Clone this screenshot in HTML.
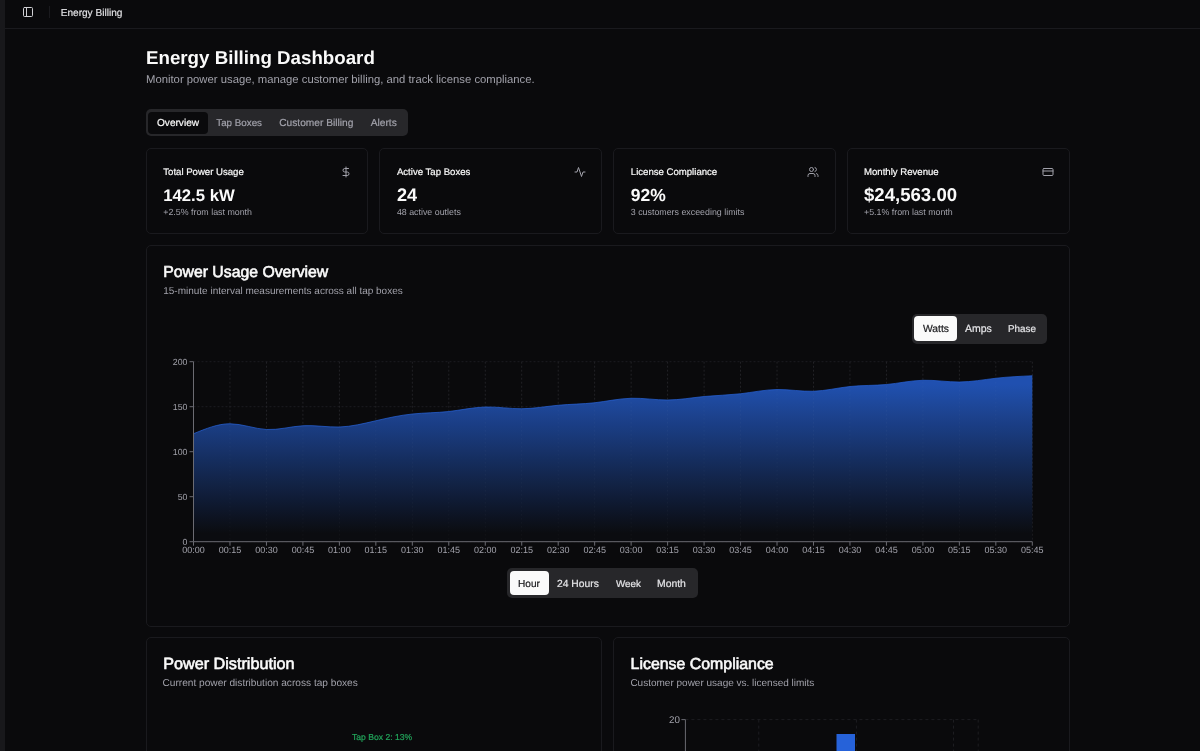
<!DOCTYPE html>
<html><head><meta charset="utf-8"><style>
html,body{margin:0;padding:0;width:1200px;height:751px;overflow:hidden;background:#0a0a0c;}
body{position:relative;font-family:"Liberation Sans",sans-serif;}
.t{position:absolute;white-space:nowrap;line-height:1;text-rendering:geometricPrecision;}
#tl{position:absolute;left:0;top:0;width:1200px;height:751px;will-change:transform;}
.b{position:absolute;}
</style></head><body>
<div class="b" style="left:0px;top:0px;width:5px;height:751px;background:#18181b"></div>
<div class="b" style="left:5px;top:28px;width:1195px;height:1px;background:#1a1a1e"></div>
<svg class="b" style="left:22px;top:6px" width="12" height="12" viewBox="0 0 24 24" fill="none" stroke="#d0d0d4" stroke-width="2" stroke-linecap="round" stroke-linejoin="round"><rect width="18" height="18" x="3" y="3" rx="2"/><path d="M9 3v18"/></svg>
<div class="b" style="left:49px;top:6px;width:1px;height:12px;background:#1a1a1e"></div>
<div class="b" style="left:146px;top:109px;width:262px;height:27px;background:#27272a;border-radius:5px"></div>
<div class="b" style="left:148px;top:112px;width:60px;height:22px;background:#0a0a0c;border-radius:4px"></div>
<div class="b" style="left:146px;top:148px;width:222px;height:86px;border:1px solid #1a1a1e;border-radius:5px;box-sizing:border-box"></div>
<svg class="b" style="left:339.50px;top:165.6px" width="12" height="12" viewBox="0 0 24 24" fill="none" stroke="#a1a1aa" stroke-width="2" stroke-linecap="round" stroke-linejoin="round"><line x1="12" x2="12" y1="2" y2="22"/><path d="M17 5H9.5a3.5 3.5 0 0 0 0 7h5a3.5 3.5 0 0 1 0 7H6"/></svg>
<div class="b" style="left:379px;top:148px;width:223px;height:86px;border:1px solid #1a1a1e;border-radius:5px;box-sizing:border-box"></div>
<svg class="b" style="left:573.70px;top:165.6px" width="12" height="12" viewBox="0 0 24 24" fill="none" stroke="#a1a1aa" stroke-width="2" stroke-linecap="round" stroke-linejoin="round"><path d="M22 12h-4l-3 9L9 3l-3 9H2"/></svg>
<div class="b" style="left:613px;top:148px;width:223px;height:86px;border:1px solid #1a1a1e;border-radius:5px;box-sizing:border-box"></div>
<svg class="b" style="left:807.40px;top:165.6px" width="12" height="12" viewBox="0 0 24 24" fill="none" stroke="#a1a1aa" stroke-width="2" stroke-linecap="round" stroke-linejoin="round"><path d="M16 21v-2a4 4 0 0 0-4-4H6a4 4 0 0 0-4 4v2"/><circle cx="9" cy="7" r="4"/><path d="M22 21v-2a4 4 0 0 0-3-3.87"/><path d="M16 3.13a4 4 0 0 1 0 7.75"/></svg>
<div class="b" style="left:847px;top:148px;width:223px;height:86px;border:1px solid #1a1a1e;border-radius:5px;box-sizing:border-box"></div>
<svg class="b" style="left:1041.50px;top:165.6px" width="12" height="12" viewBox="0 0 24 24" fill="none" stroke="#a1a1aa" stroke-width="2" stroke-linecap="round" stroke-linejoin="round"><rect width="20" height="14" x="2" y="5" rx="2"/><line x1="2" x2="22" y1="10" y2="10"/></svg>
<div class="b" style="left:146px;top:245px;width:924px;height:382px;border:1px solid #1a1a1e;border-radius:5px;box-sizing:border-box"></div>
<div class="b" style="left:912px;top:314px;width:135px;height:30px;background:#27272a;border-radius:5px"></div>
<div class="b" style="left:914px;top:316px;width:43.3px;height:25.3px;background:#fafafa;border-radius:4px"></div>
<div class="b" style="left:507px;top:568px;width:191px;height:30px;background:#27272a;border-radius:5px"></div>
<div class="b" style="left:509.6px;top:570.9px;width:39.1px;height:24.6px;background:#fafafa;border-radius:4px"></div>
<svg class="b" style="left:0;top:0" width="1200" height="751"><defs><linearGradient id="g" x1="0" y1="0" x2="0" y2="1"><stop offset="0%" stop-color="#2050b0"/><stop offset="5%" stop-color="#2050b0"/><stop offset="10%" stop-color="#1f4da7"/><stop offset="15%" stop-color="#1e499e"/><stop offset="20%" stop-color="#1d4595"/><stop offset="25%" stop-color="#1c418c"/><stop offset="30%" stop-color="#1a3d84"/><stop offset="35%" stop-color="#193a7b"/><stop offset="40%" stop-color="#183672"/><stop offset="45%" stop-color="#173269"/><stop offset="50%" stop-color="#152e60"/><stop offset="55%" stop-color="#142a57"/><stop offset="60%" stop-color="#13264e"/><stop offset="65%" stop-color="#122345"/><stop offset="70%" stop-color="#111f3d"/><stop offset="75%" stop-color="#0f1b34"/><stop offset="80%" stop-color="#0e172b"/><stop offset="85%" stop-color="#0d1322"/><stop offset="90%" stop-color="#0c1019"/><stop offset="95%" stop-color="#0b0c10"/><stop offset="100%" stop-color="#0b0c10"/></linearGradient></defs><line x1="193.5" x2="1032.31" y1="361.70" y2="361.70" stroke="#1d1d21" stroke-dasharray="2 2" stroke-width="1"/><line x1="193.5" x2="1032.31" y1="406.70" y2="406.70" stroke="#1d1d21" stroke-dasharray="2 2" stroke-width="1"/><line x1="193.5" x2="1032.31" y1="451.70" y2="451.70" stroke="#1d1d21" stroke-dasharray="2 2" stroke-width="1"/><line x1="193.5" x2="1032.31" y1="496.70" y2="496.70" stroke="#1d1d21" stroke-dasharray="2 2" stroke-width="1"/><line x1="193.5" x2="1032.31" y1="541.70" y2="541.70" stroke="#1d1d21" stroke-dasharray="2 2" stroke-width="1"/><line x1="193.50" x2="193.50" y1="361.7" y2="541.7" stroke="#1d1d21" stroke-dasharray="2 2" stroke-width="1"/><line x1="229.97" x2="229.97" y1="361.7" y2="541.7" stroke="#1d1d21" stroke-dasharray="2 2" stroke-width="1"/><line x1="266.44" x2="266.44" y1="361.7" y2="541.7" stroke="#1d1d21" stroke-dasharray="2 2" stroke-width="1"/><line x1="302.91" x2="302.91" y1="361.7" y2="541.7" stroke="#1d1d21" stroke-dasharray="2 2" stroke-width="1"/><line x1="339.38" x2="339.38" y1="361.7" y2="541.7" stroke="#1d1d21" stroke-dasharray="2 2" stroke-width="1"/><line x1="375.85" x2="375.85" y1="361.7" y2="541.7" stroke="#1d1d21" stroke-dasharray="2 2" stroke-width="1"/><line x1="412.32" x2="412.32" y1="361.7" y2="541.7" stroke="#1d1d21" stroke-dasharray="2 2" stroke-width="1"/><line x1="448.79" x2="448.79" y1="361.7" y2="541.7" stroke="#1d1d21" stroke-dasharray="2 2" stroke-width="1"/><line x1="485.26" x2="485.26" y1="361.7" y2="541.7" stroke="#1d1d21" stroke-dasharray="2 2" stroke-width="1"/><line x1="521.73" x2="521.73" y1="361.7" y2="541.7" stroke="#1d1d21" stroke-dasharray="2 2" stroke-width="1"/><line x1="558.20" x2="558.20" y1="361.7" y2="541.7" stroke="#1d1d21" stroke-dasharray="2 2" stroke-width="1"/><line x1="594.67" x2="594.67" y1="361.7" y2="541.7" stroke="#1d1d21" stroke-dasharray="2 2" stroke-width="1"/><line x1="631.14" x2="631.14" y1="361.7" y2="541.7" stroke="#1d1d21" stroke-dasharray="2 2" stroke-width="1"/><line x1="667.61" x2="667.61" y1="361.7" y2="541.7" stroke="#1d1d21" stroke-dasharray="2 2" stroke-width="1"/><line x1="704.08" x2="704.08" y1="361.7" y2="541.7" stroke="#1d1d21" stroke-dasharray="2 2" stroke-width="1"/><line x1="740.55" x2="740.55" y1="361.7" y2="541.7" stroke="#1d1d21" stroke-dasharray="2 2" stroke-width="1"/><line x1="777.02" x2="777.02" y1="361.7" y2="541.7" stroke="#1d1d21" stroke-dasharray="2 2" stroke-width="1"/><line x1="813.49" x2="813.49" y1="361.7" y2="541.7" stroke="#1d1d21" stroke-dasharray="2 2" stroke-width="1"/><line x1="849.96" x2="849.96" y1="361.7" y2="541.7" stroke="#1d1d21" stroke-dasharray="2 2" stroke-width="1"/><line x1="886.43" x2="886.43" y1="361.7" y2="541.7" stroke="#1d1d21" stroke-dasharray="2 2" stroke-width="1"/><line x1="922.90" x2="922.90" y1="361.7" y2="541.7" stroke="#1d1d21" stroke-dasharray="2 2" stroke-width="1"/><line x1="959.37" x2="959.37" y1="361.7" y2="541.7" stroke="#1d1d21" stroke-dasharray="2 2" stroke-width="1"/><line x1="995.84" x2="995.84" y1="361.7" y2="541.7" stroke="#1d1d21" stroke-dasharray="2 2" stroke-width="1"/><line x1="1032.31" x2="1032.31" y1="361.7" y2="541.7" stroke="#1d1d21" stroke-dasharray="2 2" stroke-width="1"/><path d="M193.50,433.75C205.66,428.74 217.81,423.73 229.97,423.75C242.13,423.77 254.28,428.83 266.44,429.50C278.60,430.17 290.75,426.45 302.91,425.75C315.07,425.05 327.22,427.36 339.38,427.00C351.54,426.64 363.69,423.59 375.85,420.75C388.01,417.91 400.16,415.26 412.32,414.00C424.48,412.74 436.63,412.85 448.79,411.50C460.95,410.15 473.10,407.33 485.26,407.00C497.42,406.67 509.57,408.82 521.73,408.75C533.89,408.68 546.04,406.39 558.20,405.25C570.36,404.11 582.51,404.13 594.67,402.75C606.83,401.37 618.98,398.58 631.14,398.25C643.30,397.92 655.45,400.06 667.61,400.00C679.77,399.94 691.92,397.70 704.08,396.50C716.24,395.30 728.39,395.16 740.55,393.75C752.71,392.34 764.86,389.68 777.02,389.50C789.18,389.32 801.33,391.63 813.49,391.25C825.65,390.87 837.80,387.80 849.96,386.50C862.12,385.20 874.27,385.66 886.43,384.50C898.59,383.34 910.74,380.57 922.90,380.25C935.06,379.93 947.21,382.07 959.37,382.00C971.53,381.93 983.68,379.66 995.84,378.25C1008.00,376.84 1020.15,376.30 1032.31,375.75L1032.31,541.70L193.50,541.70Z" fill="url(#g)"/><line x1="193.50" x2="193.50" y1="361.7" y2="541.7" stroke="rgba(255,255,255,0.03)" stroke-dasharray="2 2" stroke-width="1"/><line x1="229.97" x2="229.97" y1="361.7" y2="541.7" stroke="rgba(255,255,255,0.03)" stroke-dasharray="2 2" stroke-width="1"/><line x1="266.44" x2="266.44" y1="361.7" y2="541.7" stroke="rgba(255,255,255,0.03)" stroke-dasharray="2 2" stroke-width="1"/><line x1="302.91" x2="302.91" y1="361.7" y2="541.7" stroke="rgba(255,255,255,0.03)" stroke-dasharray="2 2" stroke-width="1"/><line x1="339.38" x2="339.38" y1="361.7" y2="541.7" stroke="rgba(255,255,255,0.03)" stroke-dasharray="2 2" stroke-width="1"/><line x1="375.85" x2="375.85" y1="361.7" y2="541.7" stroke="rgba(255,255,255,0.03)" stroke-dasharray="2 2" stroke-width="1"/><line x1="412.32" x2="412.32" y1="361.7" y2="541.7" stroke="rgba(255,255,255,0.03)" stroke-dasharray="2 2" stroke-width="1"/><line x1="448.79" x2="448.79" y1="361.7" y2="541.7" stroke="rgba(255,255,255,0.03)" stroke-dasharray="2 2" stroke-width="1"/><line x1="485.26" x2="485.26" y1="361.7" y2="541.7" stroke="rgba(255,255,255,0.03)" stroke-dasharray="2 2" stroke-width="1"/><line x1="521.73" x2="521.73" y1="361.7" y2="541.7" stroke="rgba(255,255,255,0.03)" stroke-dasharray="2 2" stroke-width="1"/><line x1="558.20" x2="558.20" y1="361.7" y2="541.7" stroke="rgba(255,255,255,0.03)" stroke-dasharray="2 2" stroke-width="1"/><line x1="594.67" x2="594.67" y1="361.7" y2="541.7" stroke="rgba(255,255,255,0.03)" stroke-dasharray="2 2" stroke-width="1"/><line x1="631.14" x2="631.14" y1="361.7" y2="541.7" stroke="rgba(255,255,255,0.03)" stroke-dasharray="2 2" stroke-width="1"/><line x1="667.61" x2="667.61" y1="361.7" y2="541.7" stroke="rgba(255,255,255,0.03)" stroke-dasharray="2 2" stroke-width="1"/><line x1="704.08" x2="704.08" y1="361.7" y2="541.7" stroke="rgba(255,255,255,0.03)" stroke-dasharray="2 2" stroke-width="1"/><line x1="740.55" x2="740.55" y1="361.7" y2="541.7" stroke="rgba(255,255,255,0.03)" stroke-dasharray="2 2" stroke-width="1"/><line x1="777.02" x2="777.02" y1="361.7" y2="541.7" stroke="rgba(255,255,255,0.03)" stroke-dasharray="2 2" stroke-width="1"/><line x1="813.49" x2="813.49" y1="361.7" y2="541.7" stroke="rgba(255,255,255,0.03)" stroke-dasharray="2 2" stroke-width="1"/><line x1="849.96" x2="849.96" y1="361.7" y2="541.7" stroke="rgba(255,255,255,0.03)" stroke-dasharray="2 2" stroke-width="1"/><line x1="886.43" x2="886.43" y1="361.7" y2="541.7" stroke="rgba(255,255,255,0.03)" stroke-dasharray="2 2" stroke-width="1"/><line x1="922.90" x2="922.90" y1="361.7" y2="541.7" stroke="rgba(255,255,255,0.03)" stroke-dasharray="2 2" stroke-width="1"/><line x1="959.37" x2="959.37" y1="361.7" y2="541.7" stroke="rgba(255,255,255,0.03)" stroke-dasharray="2 2" stroke-width="1"/><line x1="995.84" x2="995.84" y1="361.7" y2="541.7" stroke="rgba(255,255,255,0.03)" stroke-dasharray="2 2" stroke-width="1"/><line x1="1032.31" x2="1032.31" y1="361.7" y2="541.7" stroke="rgba(255,255,255,0.03)" stroke-dasharray="2 2" stroke-width="1"/><path d="M193.50,433.75C205.66,428.74 217.81,423.73 229.97,423.75C242.13,423.77 254.28,428.83 266.44,429.50C278.60,430.17 290.75,426.45 302.91,425.75C315.07,425.05 327.22,427.36 339.38,427.00C351.54,426.64 363.69,423.59 375.85,420.75C388.01,417.91 400.16,415.26 412.32,414.00C424.48,412.74 436.63,412.85 448.79,411.50C460.95,410.15 473.10,407.33 485.26,407.00C497.42,406.67 509.57,408.82 521.73,408.75C533.89,408.68 546.04,406.39 558.20,405.25C570.36,404.11 582.51,404.13 594.67,402.75C606.83,401.37 618.98,398.58 631.14,398.25C643.30,397.92 655.45,400.06 667.61,400.00C679.77,399.94 691.92,397.70 704.08,396.50C716.24,395.30 728.39,395.16 740.55,393.75C752.71,392.34 764.86,389.68 777.02,389.50C789.18,389.32 801.33,391.63 813.49,391.25C825.65,390.87 837.80,387.80 849.96,386.50C862.12,385.20 874.27,385.66 886.43,384.50C898.59,383.34 910.74,380.57 922.90,380.25C935.06,379.93 947.21,382.07 959.37,382.00C971.53,381.93 983.68,379.66 995.84,378.25C1008.00,376.84 1020.15,376.30 1032.31,375.75" fill="none" stroke="#2662d9" stroke-opacity="0.7" stroke-width="1"/><line x1="193.5" x2="193.5" y1="361.7" y2="541.7" stroke="#6b6b72"/><line x1="193.5" x2="1032.31" y1="541.7" y2="541.7" stroke="#6b6b72"/><line x1="189.5" x2="193.5" y1="361.70" y2="361.70" stroke="#6b6b72"/><line x1="189.5" x2="193.5" y1="406.70" y2="406.70" stroke="#6b6b72"/><line x1="189.5" x2="193.5" y1="451.70" y2="451.70" stroke="#6b6b72"/><line x1="189.5" x2="193.5" y1="496.70" y2="496.70" stroke="#6b6b72"/><line x1="189.5" x2="193.5" y1="541.70" y2="541.70" stroke="#6b6b72"/><line x1="193.50" x2="193.50" y1="541.7" y2="545.7" stroke="#6b6b72"/><line x1="229.97" x2="229.97" y1="541.7" y2="545.7" stroke="#6b6b72"/><line x1="266.44" x2="266.44" y1="541.7" y2="545.7" stroke="#6b6b72"/><line x1="302.91" x2="302.91" y1="541.7" y2="545.7" stroke="#6b6b72"/><line x1="339.38" x2="339.38" y1="541.7" y2="545.7" stroke="#6b6b72"/><line x1="375.85" x2="375.85" y1="541.7" y2="545.7" stroke="#6b6b72"/><line x1="412.32" x2="412.32" y1="541.7" y2="545.7" stroke="#6b6b72"/><line x1="448.79" x2="448.79" y1="541.7" y2="545.7" stroke="#6b6b72"/><line x1="485.26" x2="485.26" y1="541.7" y2="545.7" stroke="#6b6b72"/><line x1="521.73" x2="521.73" y1="541.7" y2="545.7" stroke="#6b6b72"/><line x1="558.20" x2="558.20" y1="541.7" y2="545.7" stroke="#6b6b72"/><line x1="594.67" x2="594.67" y1="541.7" y2="545.7" stroke="#6b6b72"/><line x1="631.14" x2="631.14" y1="541.7" y2="545.7" stroke="#6b6b72"/><line x1="667.61" x2="667.61" y1="541.7" y2="545.7" stroke="#6b6b72"/><line x1="704.08" x2="704.08" y1="541.7" y2="545.7" stroke="#6b6b72"/><line x1="740.55" x2="740.55" y1="541.7" y2="545.7" stroke="#6b6b72"/><line x1="777.02" x2="777.02" y1="541.7" y2="545.7" stroke="#6b6b72"/><line x1="813.49" x2="813.49" y1="541.7" y2="545.7" stroke="#6b6b72"/><line x1="849.96" x2="849.96" y1="541.7" y2="545.7" stroke="#6b6b72"/><line x1="886.43" x2="886.43" y1="541.7" y2="545.7" stroke="#6b6b72"/><line x1="922.90" x2="922.90" y1="541.7" y2="545.7" stroke="#6b6b72"/><line x1="959.37" x2="959.37" y1="541.7" y2="545.7" stroke="#6b6b72"/><line x1="995.84" x2="995.84" y1="541.7" y2="545.7" stroke="#6b6b72"/><line x1="1032.31" x2="1032.31" y1="541.7" y2="545.7" stroke="#6b6b72"/><line x1="685.4" x2="978.2" y1="719.6" y2="719.6" stroke="#1d1d21" stroke-dasharray="3 3"/><line x1="758.75" x2="758.75" y1="719.6" y2="760" stroke="#1d1d21" stroke-dasharray="3 3"/><line x1="856.4" x2="856.4" y1="719.6" y2="760" stroke="#1d1d21" stroke-dasharray="3 3"/><line x1="953.5" x2="953.5" y1="719.6" y2="760" stroke="#1d1d21" stroke-dasharray="3 3"/><line x1="978.2" x2="978.2" y1="719.6" y2="760" stroke="#1d1d21" stroke-dasharray="3 3"/><rect x="836.5" y="734" width="18.5" height="30" fill="#2662d9"/><line x1="685.4" x2="685.4" y1="719.6" y2="760" stroke="#6b6b72"/><line x1="681.4" x2="685.4" y1="719.6" y2="719.6" stroke="#6b6b72"/></svg>
<div class="b" style="left:146px;top:637px;width:456px;height:130px;border:1px solid #1a1a1e;border-radius:5px;box-sizing:border-box"></div>
<div class="b" style="left:613px;top:637px;width:457px;height:130px;border:1px solid #1a1a1e;border-radius:5px;box-sizing:border-box"></div>
<div id="tl"><div class="t" style="left:60.70px;top:9px;font-size:10.1px;color:#e4e4e7;font-weight:400;-webkit-text-stroke:0.15px currentColor;">Energy Billing</div>
<div class="t" style="left:146.00px;top:49px;font-size:18.73px;color:#fafafa;font-weight:700;">Energy Billing Dashboard</div>
<div class="t" style="left:146.00px;top:75px;font-size:11.3px;color:#a1a1aa;font-weight:400;">Monitor power usage, manage customer billing, and track license compliance.</div>
<div class="t" style="left:157.00px;top:119px;font-size:10.1px;color:#fafafa;font-weight:400;-webkit-text-stroke:0.2px currentColor;">Overview</div>
<div class="t" style="left:216.25px;top:119px;font-size:9.8px;color:#a1a1aa;font-weight:400;-webkit-text-stroke:0.2px currentColor;">Tap Boxes</div>
<div class="t" style="left:279.25px;top:119px;font-size:10.2px;color:#a1a1aa;font-weight:400;-webkit-text-stroke:0.2px currentColor;">Customer Billing</div>
<div class="t" style="left:370.75px;top:119px;font-size:10.2px;color:#a1a1aa;font-weight:400;-webkit-text-stroke:0.2px currentColor;">Alerts</div>
<div class="t" style="left:163.25px;top:168px;font-size:9.6px;color:#fafafa;font-weight:400;-webkit-text-stroke:0.2px currentColor;">Total Power Usage</div>
<div class="t" style="left:163.25px;top:188px;font-size:16.7px;color:#fafafa;font-weight:700;">142.5 kW</div>
<div class="t" style="left:163.25px;top:208px;font-size:8.85px;color:#a1a1aa;font-weight:400;">+2.5% from last month</div>
<div class="t" style="left:396.90px;top:168px;font-size:9.6px;color:#fafafa;font-weight:400;-webkit-text-stroke:0.2px currentColor;">Active Tap Boxes</div>
<div class="t" style="left:396.90px;top:186px;font-size:18.1px;color:#fafafa;font-weight:700;">24</div>
<div class="t" style="left:396.90px;top:208px;font-size:8.85px;color:#a1a1aa;font-weight:400;">48 active outlets</div>
<div class="t" style="left:630.80px;top:168px;font-size:9.6px;color:#fafafa;font-weight:400;-webkit-text-stroke:0.2px currentColor;">License Compliance</div>
<div class="t" style="left:630.80px;top:187px;font-size:17.5px;color:#fafafa;font-weight:700;">92%</div>
<div class="t" style="left:630.80px;top:208px;font-size:8.85px;color:#a1a1aa;font-weight:400;">3 customers exceeding limits</div>
<div class="t" style="left:864.00px;top:168px;font-size:9.6px;color:#fafafa;font-weight:400;-webkit-text-stroke:0.2px currentColor;">Monthly Revenue</div>
<div class="t" style="left:864.00px;top:186px;font-size:18.6px;color:#fafafa;font-weight:700;">$24,563.00</div>
<div class="t" style="left:864.00px;top:208px;font-size:8.85px;color:#a1a1aa;font-weight:400;">+5.1% from last month</div>
<div class="t" style="left:163.20px;top:265px;font-size:15.8px;color:#fafafa;font-weight:400;-webkit-text-stroke:0.6px currentColor;">Power Usage Overview</div>
<div class="t" style="left:163.20px;top:287px;font-size:10px;color:#a1a1aa;font-weight:400;">15-minute interval measurements across all tap boxes</div>
<div class="t" style="left:923.00px;top:325px;font-size:10.3px;color:#18181b;font-weight:400;-webkit-text-stroke:0.2px currentColor;">Watts</div>
<div class="t" style="left:965.00px;top:324px;font-size:10.5px;color:#e4e4e7;font-weight:400;-webkit-text-stroke:0.2px currentColor;">Amps</div>
<div class="t" style="left:1008.00px;top:325px;font-size:9.9px;color:#e4e4e7;font-weight:400;-webkit-text-stroke:0.2px currentColor;">Phase</div>
<div class="t" style="left:518.00px;top:580px;font-size:10.1px;color:#18181b;font-weight:400;-webkit-text-stroke:0.2px currentColor;">Hour</div>
<div class="t" style="left:557.00px;top:580px;font-size:10.3px;color:#e4e4e7;font-weight:400;-webkit-text-stroke:0.2px currentColor;">24 Hours</div>
<div class="t" style="left:616.00px;top:580px;font-size:9.8px;color:#e4e4e7;font-weight:400;-webkit-text-stroke:0.2px currentColor;">Week</div>
<div class="t" style="left:657.00px;top:580px;font-size:10.4px;color:#e4e4e7;font-weight:400;-webkit-text-stroke:0.2px currentColor;">Month</div>
<div class="t" style="left:-212.50px;width:400px;text-align:right;top:358px;font-size:8.8px;color:#a1a1aa;font-weight:400;">200</div>
<div class="t" style="left:-212.50px;width:400px;text-align:right;top:403px;font-size:8.8px;color:#a1a1aa;font-weight:400;">150</div>
<div class="t" style="left:-212.50px;width:400px;text-align:right;top:448px;font-size:8.8px;color:#a1a1aa;font-weight:400;">100</div>
<div class="t" style="left:-212.50px;width:400px;text-align:right;top:493px;font-size:8.8px;color:#a1a1aa;font-weight:400;">50</div>
<div class="t" style="left:-212.50px;width:400px;text-align:right;top:538px;font-size:8.8px;color:#a1a1aa;font-weight:400;">0</div>
<div class="t" style="left:-6.50px;width:400px;text-align:center;top:546px;font-size:9.0px;color:#a1a1aa;font-weight:400;">00:00</div>
<div class="t" style="left:29.97px;width:400px;text-align:center;top:546px;font-size:9.0px;color:#a1a1aa;font-weight:400;">00:15</div>
<div class="t" style="left:66.44px;width:400px;text-align:center;top:546px;font-size:9.0px;color:#a1a1aa;font-weight:400;">00:30</div>
<div class="t" style="left:102.91px;width:400px;text-align:center;top:546px;font-size:9.0px;color:#a1a1aa;font-weight:400;">00:45</div>
<div class="t" style="left:139.38px;width:400px;text-align:center;top:546px;font-size:9.0px;color:#a1a1aa;font-weight:400;">01:00</div>
<div class="t" style="left:175.85px;width:400px;text-align:center;top:546px;font-size:9.0px;color:#a1a1aa;font-weight:400;">01:15</div>
<div class="t" style="left:212.32px;width:400px;text-align:center;top:546px;font-size:9.0px;color:#a1a1aa;font-weight:400;">01:30</div>
<div class="t" style="left:248.79px;width:400px;text-align:center;top:546px;font-size:9.0px;color:#a1a1aa;font-weight:400;">01:45</div>
<div class="t" style="left:285.26px;width:400px;text-align:center;top:546px;font-size:9.0px;color:#a1a1aa;font-weight:400;">02:00</div>
<div class="t" style="left:321.73px;width:400px;text-align:center;top:546px;font-size:9.0px;color:#a1a1aa;font-weight:400;">02:15</div>
<div class="t" style="left:358.20px;width:400px;text-align:center;top:546px;font-size:9.0px;color:#a1a1aa;font-weight:400;">02:30</div>
<div class="t" style="left:394.67px;width:400px;text-align:center;top:546px;font-size:9.0px;color:#a1a1aa;font-weight:400;">02:45</div>
<div class="t" style="left:431.14px;width:400px;text-align:center;top:546px;font-size:9.0px;color:#a1a1aa;font-weight:400;">03:00</div>
<div class="t" style="left:467.61px;width:400px;text-align:center;top:546px;font-size:9.0px;color:#a1a1aa;font-weight:400;">03:15</div>
<div class="t" style="left:504.08px;width:400px;text-align:center;top:546px;font-size:9.0px;color:#a1a1aa;font-weight:400;">03:30</div>
<div class="t" style="left:540.55px;width:400px;text-align:center;top:546px;font-size:9.0px;color:#a1a1aa;font-weight:400;">03:45</div>
<div class="t" style="left:577.02px;width:400px;text-align:center;top:546px;font-size:9.0px;color:#a1a1aa;font-weight:400;">04:00</div>
<div class="t" style="left:613.49px;width:400px;text-align:center;top:546px;font-size:9.0px;color:#a1a1aa;font-weight:400;">04:15</div>
<div class="t" style="left:649.96px;width:400px;text-align:center;top:546px;font-size:9.0px;color:#a1a1aa;font-weight:400;">04:30</div>
<div class="t" style="left:686.43px;width:400px;text-align:center;top:546px;font-size:9.0px;color:#a1a1aa;font-weight:400;">04:45</div>
<div class="t" style="left:722.90px;width:400px;text-align:center;top:546px;font-size:9.0px;color:#a1a1aa;font-weight:400;">05:00</div>
<div class="t" style="left:759.37px;width:400px;text-align:center;top:546px;font-size:9.0px;color:#a1a1aa;font-weight:400;">05:15</div>
<div class="t" style="left:795.84px;width:400px;text-align:center;top:546px;font-size:9.0px;color:#a1a1aa;font-weight:400;">05:30</div>
<div class="t" style="left:832.31px;width:400px;text-align:center;top:546px;font-size:9.0px;color:#a1a1aa;font-weight:400;">05:45</div>
<div class="t" style="left:279.90px;width:400px;text-align:right;top:716px;font-size:9.8px;color:#a1a1aa;font-weight:400;">20</div>
<div class="t" style="left:163.20px;top:656px;font-size:16.2px;color:#fafafa;font-weight:400;-webkit-text-stroke:0.6px currentColor;">Power Distribution</div>
<div class="t" style="left:162.50px;top:679px;font-size:10.13px;color:#a1a1aa;font-weight:400;">Current power distribution across tap boxes</div>
<div class="t" style="left:630.60px;top:657px;font-size:15.9px;color:#fafafa;font-weight:400;-webkit-text-stroke:0.6px currentColor;">License Compliance</div>
<div class="t" style="left:630.40px;top:679px;font-size:10.0px;color:#a1a1aa;font-weight:400;">Customer power usage vs. licensed limits</div>
<div class="t" style="left:352.00px;top:733px;font-size:8.6px;color:#22a55b;font-weight:400;-webkit-text-stroke:0.2px currentColor;">Tap Box 2: 13%</div></div>
</body></html>
